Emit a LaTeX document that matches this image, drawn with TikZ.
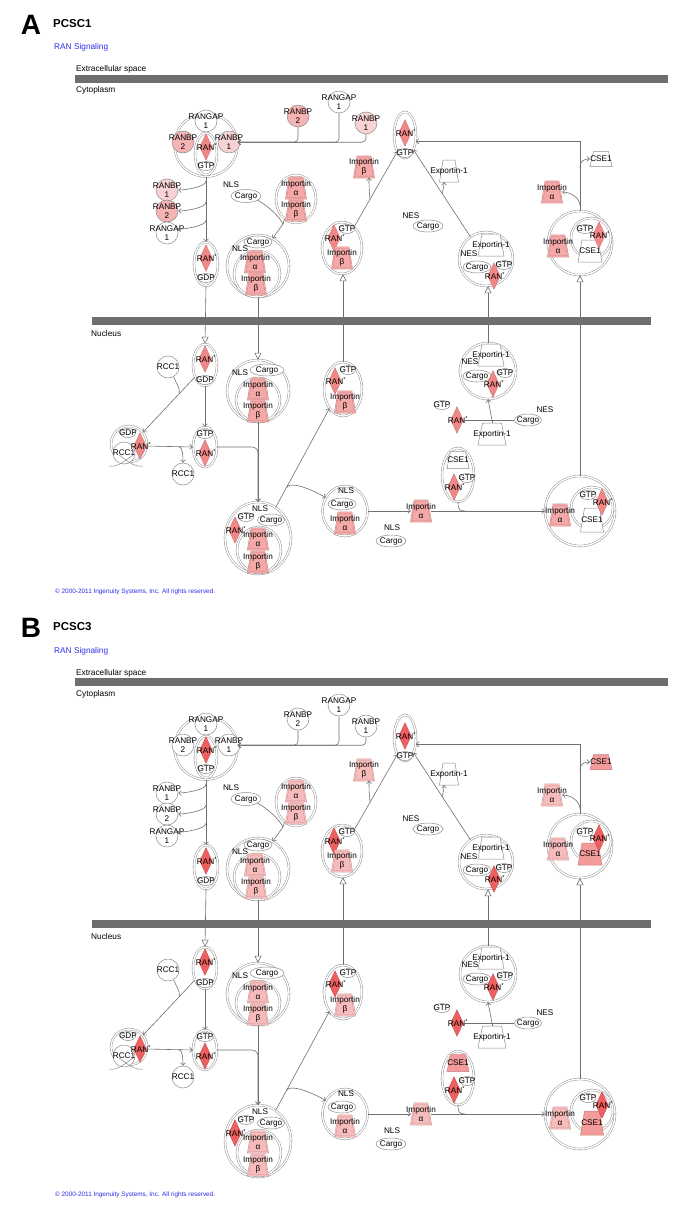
\documentclass[tikz,border=0pt]{standalone}
\usepackage{fontspec}
\setmainfont{Liberation Sans}
\usetikzlibrary{arrows.meta,calc,shapes.geometric}
\definecolor{gc}{HTML}{8C8C8C}
\definecolor{lc}{HTML}{707070}
\definecolor{barc}{HTML}{6E6E6E}
\definecolor{blu}{RGB}{45,45,235}
\newcommand\lbf{\fontsize{8.2}{9}\selectfont}
\newcommand\ranlbl{RAN\textsuperscript{*}}
\newcount\txn
\tikzset{
  lbl/.style={font=\lbf, align=center, inner sep=0pt, text=black},
  cmp/.style={font=\fontsize{8.3}{9}\selectfont, inner sep=0pt, anchor=base west},
  ovs/.style={ellipse, draw=gc, fill=white, line width=0.5pt, inner sep=0pt},
  prots/.style={circle, draw=gc, line width=0.5pt, minimum size=22pt, inner sep=0pt},
  cx/.style={draw=gc, double=white, double distance=1.4pt, line width=0.45pt, fill=white, inner sep=0pt},
  cxc/.style={cx, circle},
  cxe/.style={cx, ellipse},
  impst/.style={fill=impC, draw=impD, line width=0.35pt, double=impC, double distance=0.9pt},
  wst/.style={fill=white, draw=gc, line width=0.5pt},
  cst/.style={fill=cseC, draw=cseD, line width=0.5pt},
  ln/.style={draw=lc, line width=0.6pt},
  arr/.style={ln, -{Straight Barb[length=2.6pt,width=5pt]}},
  tarr/.style={ln, -{Triangle[length=7pt,width=7pt,fill=white]}},
}
\newcommand\Prot[5]{\node[prots, fill=#4] (#1) at (#2,#3) {};\node[lbl] (#1l) at (#2,#3) {#5};}
\newcommand\Ovl[6]{\node[ovs, minimum width=#4pt, minimum height=#5pt] (#1) at (#2,#3) {};\node[lbl] (#1l) at (#2,#3) {#6};}
\newcommand\Ranx[3]{\node[inner sep=0pt, minimum width=12pt, minimum height=26pt] (#1) at (#2,#3) {};%
  \path[fill=ranC, draw=ranD, line width=0.4pt] (#1.north) -- (#1.east) -- (#1.south) -- (#1.west) -- cycle;%
  \node[lbl] (#1l) at (#2+1,#3) {\ranlbl};}
\newcommand\Trap[8]{\node[inner sep=0pt, minimum width=#5pt, minimum height=#6pt] (#1) at (#2,#3) {};%
  \path[#7] (#2-#5/2,#3+#6/2) -- (#2+#5/2,#3+#6/2) -- (#2+#4/2,#3-#6/2) -- (#2-#4/2,#3-#6/2) -- cycle;%
  \node[lbl] (#1l) at (#2,#3) {#8};}
\newcommand\Imp[4]{\Trap{#1}{#2}{#3}{13}{20}{21}{impst}{Importin\\#4}}
\newcommand\Tx[3]{\global\advance\txn by 1\relax\node[lbl] (tx\the\txn) at (#1,#2) {#3};}

\newcommand\panelbody{%
\fill[barc] (75,75) rectangle (668,83);
\fill[barc] (92,317) rectangle (651,325);
\node[cmp] (ecs) at (76,72) {Extracellular space};
\node[cmp] (cyt) at (76,93) {Cytoplasm};
\node[cmp] (nuc) at (91,336) {Nucleus};
\node[font=\fontsize{8.3}{9}\selectfont, text=blu, inner sep=0pt, anchor=base west] (sig) at (54,50) {RAN Signaling};
\node[font=\fontsize{6.4}{7}\selectfont, text=blu, inner sep=0pt, anchor=base west] (cpy) at (55,593) {© 2000-2011 Ingenuity Systems, Inc. All rights reserved.};
% ---- cytoplasm ----
\node[cxc, minimum size=63pt] (K1) at (206,145) {};
\Prot{K1a}{206}{121}{white}{RANGAP\\1}
\Prot{K1b}{183}{142}{bp2C}{RANBP\\2}
\Prot{K1c}{229}{142}{bp1C}{RANBP\\1}
\node[cxe, minimum width=22pt, minimum height=42pt] (K1d) at (206,154) {};
\Ranx{K1e}{206}{147}
\Ovl{K1f}{206}{166}{16}{9}{GTP}
\Prot{bp2f}{298}{116}{bp2C}{RANBP\\2}
\Prot{gap1f}{339}{102}{white}{RANGAP\\1}
\Prot{bp1f}{366}{123}{bp1C}{RANBP\\1}
\node[cxe, minimum width=22pt, minimum height=46pt] (K2) at (405,135) {};
\Ranx{K2a}{405}{133}
\Ovl{K2b}{405}{153}{15}{9}{GTP}
\Imp{imb1}{364}{167}{β}
\Trap{ex1}{449}{171}{12}{19}{22}{wst}{Exportin-1}
\Tx{411}{216}{NES}
\Ovl{cg2}{428}{226}{30}{12}{Cargo}
\node[cxe, minimum width=40pt, minimum height=52pt] (K3) at (342,248) {};
\Ovl{K3a}{347}{229}{15}{9}{GTP}
\Ranx{K3b}{334}{238}
\Imp{K3c}{342}{258}{β}
\node[cxc, minimum size=54pt] (K4) at (486,259) {};
\Trap{K4a}{491}{245}{18}{26}{22}{wst}{Exportin-1}
\Tx{469}{254}{NES}
\Ovl{K4b}{477}{267}{28}{12}{Cargo}
\Ovl{K4c}{504}{265}{15}{9}{GTP}
\Ranx{K4d}{494}{276}
\node[cxc, minimum size=64pt] (K5) at (580,243) {};
\node[cxc, minimum size=40pt] (K5a) at (591,238) {};
\Imp{K5b}{558}{246}{α}
\Ovl{K5c}{585}{229}{16}{9}{GTP}
\Trap{K5d}{590}{251}{16}{24}{22}{cst}{CSE1}
\Ranx{K5e}{599}{235}
\Trap{cse1f}{601}{159}{15}{22}{15}{cst}{CSE1}
\Imp{imaf}{552}{192}{α}
\node[cxe, minimum width=24pt, minimum height=44pt] (K6) at (206,264) {};
\Ranx{K6a}{206}{258}
\Ovl{K6b}{206}{278}{16}{9}{GDP}
\Prot{bp1g}{167}{190}{bp1C}{RANBP\\1}
\Prot{bp2g}{167}{211}{bp2C}{RANBP\\2}
\Prot{gap1g}{167}{233}{white}{RANGAP\\1}
\node[cxe, minimum width=40pt, minimum height=48pt] (K7) at (296,199) {};
\Imp{K7a}{296}{188}{α}
\Imp{K7b}{296}{210}{β}
\Tx{231}{185}{NLS}
\Ovl{cg1}{246}{196}{30}{13}{Cargo}
\node[cxc, minimum size=62pt] (K8) at (258,266) {};
\node[cxc, minimum size=46pt] (K8a) at (257,274) {};
\Ovl{K8b}{258}{242}{28}{12}{Cargo}
\Tx{240}{249}{NLS}
\Imp{K8c}{255}{262}{α}
\Imp{K8d}{256}{284}{β}
% ---- nucleus ----
\node[cxe, minimum width=24pt, minimum height=42pt] (N1) at (205,365) {};
\Ranx{N1a}{205}{359}
\Ovl{N1b}{205}{380}{16}{9}{GDP}
\Prot{rc1}{168}{367}{white}{RCC1}
\node[cxc, minimum size=36pt] (N2) at (129,444) {};
\Ovl{N2a}{128}{433}{15}{9}{GDP}
\Prot{N2b}{124}{453}{white}{RCC1}
\Ranx{N2c}{140}{446}
\draw[gc, line width=0.5pt] (109,466) -- (114,466) .. controls (121,465) and (127,459) .. (133,455);
\draw[gc, line width=0.5pt] (143,466) -- (138,466) .. controls (131,465) and (125,459) .. (119,455);
\Prot{rc2}{183}{474}{white}{RCC1}
\node[cxe, minimum width=24pt, minimum height=40pt] (N6) at (205,447) {};
\Ovl{N6a}{205}{434}{16}{9}{GTP}
\Ranx{N6b}{205}{453}
\node[cxc, minimum size=62pt] (N3) at (258,391) {};
\node[cxc, minimum size=44pt] (N3a) at (258,400) {};
\Ovl{N3b}{267}{370}{34}{12}{Cargo}
\Tx{240}{373}{NLS}
\Imp{N3c}{258}{389}{α}
\Imp{N3d}{258}{411}{β}
\node[cxe, minimum width=66pt, minimum height=72pt] (N7) at (258,538) {};
\node[cxe, minimum width=44pt, minimum height=46pt] (N7a) at (259,550) {};
\Tx{260}{509}{NLS}
\Ovl{N7b}{246}{517}{15}{9}{GTP}
\Ovl{N7c}{271}{520}{27}{12}{Cargo}
\Imp{N7e}{258}{539}{α}
\Imp{N7f}{258}{562}{β}
\Ranx{N7d}{235}{530}
\node[cxe, minimum width=38pt, minimum height=54pt] (N4) at (343,389) {};
\Ovl{N4a}{348}{370}{15}{9}{GTP}
\Ranx{N4b}{335}{381}
\Imp{N4c}{345}{402}{β}
\node[cxc, minimum size=56pt] (N5) at (488,371) {};
\Trap{N5a}{491}{355}{18}{26}{22}{wst}{Exportin-1}
\Tx{470}{362}{NES}
\Ovl{N5b}{477}{376}{28}{12}{Cargo}
\Ovl{N5c}{505}{373}{14}{9}{GTP}
\Ranx{N5d}{493}{384}
\Ovl{g3}{442}{405}{16}{9}{GTP}
\Ranx{d3}{457}{420}
\Ovl{cg3}{528}{420}{27}{12}{Cargo}
\Tx{545}{410}{NES}
\Trap{ex3}{492}{434}{19}{28}{22}{wst}{Exportin-1}
\node[cxe, minimum width=45pt, minimum height=50pt] (N9) at (345,511) {};
\Tx{346}{491}{NLS}
\Ovl{N9a}{342}{504}{28}{12}{Cargo}
\Imp{N9b}{345}{523}{α}
\Tx{392}{528}{NLS}
\Ovl{cg4}{391}{541}{30}{12}{Cargo}
\Imp{ima3}{421}{511}{α}
\node[cxe, minimum width=32pt, minimum height=54pt] (N10) at (458,475) {};
\Trap{N10a}{458}{460}{15}{22}{17}{cst}{CSE1}
\Ovl{N10b}{467}{478}{14}{9}{GTP}
\Ranx{N10c}{454}{487}
\node[cxc, minimum size=70pt] (N8) at (580,511) {};
\node[cxc, minimum size=42pt] (N8a) at (592,508) {};
\Imp{N8b}{560}{515}{α}
\Ovl{N8c}{588}{495}{16}{9}{GTP}
\Trap{N8d}{592}{520}{15}{23}{24}{cst}{CSE1}
\Ranx{N8e}{602}{502}
% ---- connectors: cytoplasm ----
\draw[arr, rounded corners=4pt] (bp2f.south) |- (K1.5);
\draw[arr, rounded corners=4pt] (gap1f.south) |- (K1.5);
\draw[arr, rounded corners=4pt] (bp1f.south) |- (K1.5);
\draw[arr] (K1.south) -- (K6.north);
\draw[arr] ($(K1.south|-bp1g.east)+(0,-9)$) .. controls +(0,6) and +(7,0) .. (bp1g.east);
\draw[arr] ($(K1.south|-bp2g.east)+(0,-9)$) .. controls +(0,6) and +(7,0) .. (bp2g.east);
\draw[arr] ($(K1.south|-gap1g.20)+(0,-9)$) .. controls +(0,6) and +(7,0) .. (gap1g.20);
\draw[arr] (K3.60) -- (K2.-115);
\coordinate (j1) at ($(K3.60)!0.37!(K2.-115)$);
\draw[arr] (j1) .. controls +(-1,-8) and +(0,7) .. ($(imb1.south)+(5,0)$);
\draw[arr] (K4.125) -- (K2.-60);
\coordinate (j2) at ($(K4.125)!0.49!(K2.-60)$);
\draw[arr] (j2) .. controls +(0,-5) and +(0,5) .. ($(ex1.south)+(-5,0)$);
\draw[arr] (K5.north) |- (K2.-30);
\coordinate (j3) at ($(K5.north)+(0,-43)$);
\coordinate (j11) at ($(K5.north)+(0,-5)$);
\draw[arr] (j3) .. controls +(0,-7) and +(-6,0) .. (cse1f.west);
\draw[arr] (j11) .. controls +(0,-8) and +(8,0) .. (imaf.east);
\coordinate (j4) at (283,224);
\draw[ln] (cg1.-20) .. controls (268,206) and (279,216) .. (j4);
\draw[ln] (K7.-120) -- (j4);
\draw[arr] (j4) -- (K8.62);
% ---- connectors: translocation ----
\draw[tarr] (K6.south) -- (N1.north);
\draw[tarr] (K8.south) -- (N3.north);
\draw[tarr] (N4.north) -- (N4.north |- K3.south);
\draw[tarr] (N5.north) -- (N5.north |- K4.south);
\draw[tarr] (N8.north) -- (K5.south);
% ---- connectors: nucleus ----
\draw[arr] (N1.-130) -- (N2.40);
\coordinate (j5) at ($(N1.-130)!0.3!(N2.40)$);
\draw[ln] (rc1.-60) .. controls +(2,6) and +(1,-6) .. (j5);
\draw[arr] (N2c.east) -- (N6.west);
\coordinate (j6) at ($(N2c.east)!0.7!(N6.west)$);
\draw[arr] (j6) .. controls +(4,0) and +(0,-6) .. (rc2.north);
\draw[arr] (N1.south) -- (N6.north);
\draw[arr, rounded corners=6pt] (N6.east) -| (N7.north);
\draw[arr] (N3.south) -- (N7.north);
\draw[arr] (N7.60) -- (N4.-125);
\coordinate (j8) at ($(N7.60)!0.2!(N4.-125)$);
\draw[arr] (j8) .. controls +(4,-7) and +(-14,-8) .. (N9.145);
\coordinate (j9) at (ex3.north |- d3.east);
\draw[ln] (d3.east) -- (cg3.west);
\draw[ln] (ex3.north) -- (j9);
\draw[arr] (j9) -- (N5.south);
\draw[arr] (N9.east) -- (ima3.west);
\draw[arr] (ima3.east) -- (N8.west);
\coordinate (j10) at ($(ima3.east)!0.3!(N8.west)$);
\draw[ln] (N10.south) .. controls +(0,7) and +(-6,0) .. (j10);
}

\begin{document}
\begin{tikzpicture}[x=1pt,y=-1pt]
\useasboundingbox (0,0) rectangle (690,1220);
\fill[white] (0,0) rectangle (690,1220);
\begin{scope}
  \definecolor{ranC}{HTML}{F08888}\colorlet{ranD}{ranC!85!black}
  \definecolor{impC}{HTML}{F4A8A8}\colorlet{impD}{impC!82!black}
  \definecolor{bp2C}{HTML}{F5B3B3}\definecolor{bp1C}{HTML}{F9D3D3}
  \colorlet{cseC}{white}\colorlet{cseD}{gc}
  \node[font=\bfseries\fontsize{28}{28}\selectfont, inner sep=0pt] (ltrA) at (31,25) {A};
  \node[font=\bfseries\fontsize{11.5}{12}\selectfont, inner sep=0pt, anchor=west] (ttlA) at (53,24) {PCSC1};
  \panelbody
\end{scope}
\begin{scope}[shift={(0,603)}]
  \definecolor{ranC}{HTML}{EE5F5F}\colorlet{ranD}{ranC!85!black}
  \definecolor{impC}{HTML}{F6BCBC}\colorlet{impD}{impC!82!black}
  \colorlet{bp2C}{white}\colorlet{bp1C}{white}
  \definecolor{cseC}{HTML}{F39B9B}\colorlet{cseD}{cseC!82!black}
  \node[font=\bfseries\fontsize{28}{28}\selectfont, inner sep=0pt] (ltrB) at (31,25) {B};
  \node[font=\bfseries\fontsize{11.5}{12}\selectfont, inner sep=0pt, anchor=west] (ttlB) at (53,24) {PCSC3};
  \panelbody
\end{scope}
\end{tikzpicture}
\end{document}
